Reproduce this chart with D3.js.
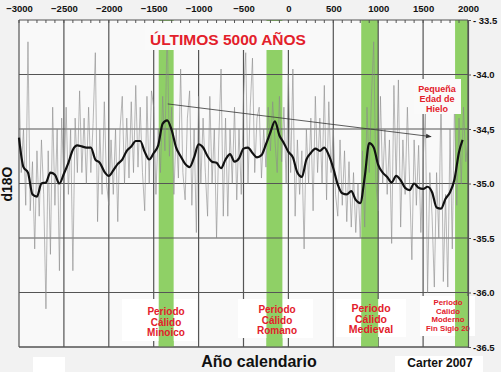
<!DOCTYPE html>
<html>
<head>
<meta charset="utf-8">
<script src="https://cdn.jsdelivr.net/npm/d3@7"></script>
<style>
  body { margin: 0; background: #f2f2f2; }
  svg { display: block; font-family: "Liberation Sans", Arial, sans-serif; }
</style>
</head>
<body>
<div id="plot"></div>
<script>
// tick labels
const xTicks = [-3000, -2500, -2000, -1500, -1000, -500, 0, 500, 1000, 1500, 2000];
const yTicks = [-33.5, -34.0, -34.5, -35.0, -35.5, -36.0, -36.5];
const yTickLabels = ["- 33.5", "-34.0", "-34,5", "-35.0", "-35.5", "-36.0", "-36.5"];

// raw d18O record, one value every 25 years from -3000 to 2000
const rawYears = d3.range(-3000, 2001, 25);
const rawValues = [
  -34.05, -34.9, -34.5, -35.2, -33.7, -35.25, -34.8, -35.6, -34.7, -35.3,
  -34.6, -35.1, -36.15, -34.7, -35.65, -34.3, -35.2, -34.5, -35.8, -34.4,
  -35.0, -34.3, -35.1, -34.5, -35.8, -34.4, -34.9, -34.15, -34.9, -34.4,
  -35.0, -34.3, -34.9, -34.45, -33.8, -35.35, -34.5, -35.1, -34.25, -35.0,
  -35.2, -34.6, -35.1, -34.5, -35.35, -34.5, -34.2, -35.0, -34.4, -34.95,
  -34.25, -34.9, -34.1, -34.85, -34.3, -34.9, -35.25, -34.2, -35.0, -34.15,
  -34.3, -35.1, -34.5, -34.9, -34.2, -34.7, -33.55, -34.75, -34.3, -35.1,
  -34.5, -34.95, -33.95, -34.9, -35.15, -34.4, -34.15, -35.2, -34.5, -35.45,
  -34.2, -35.0, -34.4, -34.9, -35.3, -34.2, -35.0, -34.5, -35.5, -34.6,
  -33.95, -35.3, -34.4, -35.3, -34.5, -35.0, -34.3, -35.15, -34.5, -35.1,
  -34.2, -33.8, -35.0, -34.3, -33.85, -34.9, -34.4, -34.3, -34.95, -34.5,
  -34.85, -34.3, -34.7, -34.25, -34.6, -34.9, -34.2, -34.8, -34.3, -35.0,
  -34.0, -34.9, -33.95, -35.3, -34.6, -35.1, -34.7, -35.6, -34.5, -35.0,
  -34.4, -35.25, -34.2, -34.9, -34.4, -35.0, -34.1, -35.15, -34.25, -34.9,
  -34.5, -35.1, -35.3, -34.6, -35.2, -34.7, -35.35, -34.8, -35.4, -34.9,
  -35.45, -35.0, -35.5, -34.7, -35.4, -34.3, -34.9, -34.2, -33.7, -35.0,
  -35.25, -34.2, -35.0, -34.5, -35.1, -34.6, -35.55, -34.1, -35.0, -34.05,
  -35.4, -34.6, -35.1, -34.3, -35.0, -35.7, -34.6, -35.2, -34.65, -35.45,
  -34.8, -34.35, -36.0, -34.9, -35.3, -35.95, -34.9, -35.5, -34.15, -35.9,
  -35.1, -35.95, -34.5, -35.6, -34.25, -35.2, -34.4, -35.0, -34.3, -34.8,
  -34.6
];

// smoothed curve, every 50 years, last point 1940
const smoothYears = d3.range(-3000, 1901, 50).concat([1940]);
const smoothValues = [
  -34.58, -34.85, -34.90, -35.10, -35.12, -35.00, -34.99, -34.90, -34.92, -35.00,
  -34.91, -34.81, -34.69, -34.65, -34.66, -34.67, -34.67, -34.78, -34.81, -34.89,
  -34.93, -34.88, -34.82, -34.78, -34.70, -34.66, -34.61, -34.61, -34.71, -34.78,
  -34.72, -34.65, -34.45, -34.42, -34.51, -34.67, -34.75, -34.82, -34.85, -34.76,
  -34.64, -34.67, -34.75, -34.80, -34.81, -34.86, -34.78, -34.73, -34.80, -34.77,
  -34.68, -34.67, -34.72, -34.76, -34.74, -34.64, -34.53, -34.43, -34.56, -34.63,
  -34.71, -34.76, -34.90, -34.94, -34.78, -34.72, -34.68, -34.70, -34.67, -34.74,
  -34.86, -35.01, -35.09, -35.10, -35.07, -35.15, -35.18, -34.94, -34.63, -34.67,
  -34.83, -34.90, -34.94, -34.99, -34.93, -34.97, -35.04, -35.06, -35.00, -35.04,
  -35.05, -35.03, -35.08, -35.22, -35.23, -35.14, -35.08, -34.96, -34.71, -34.60
];

// warm periods (green bands)
const periodNames = [["Periodo", "Cálido", "Minoico"], ["Periodo", "Cálido", "Romano"],
                     ["Periodo", "Cálido", "Medieval"], ["Periodo", "Cálido", "Moderno", "Fin Siglo 20"]];
const periodStart = [-1444, -244, 811, 1856];
const periodEnd = [-1278, -67, 1000, 2000];

// trend arrow
const trendYears = [-1344, 1589];
const trendValues = [-34.27, -34.57];

var w = 501, h = 372;
var svg = d3.select("#plot").append("svg").attr("width", w).attr("height", h);

var x = d3.scaleLinear().domain([-3000, 2000]).range([19, 468]);
var y = d3.scaleLinear().domain([-33.5, -36.5]).range([20, 347]);

var red = "#e3202b", green = "#8fd066", gridc = "#555";

// plot background
svg.append("rect").attr("x", x(-3000)).attr("y", y(-33.5))
  .attr("width", x(2000) - x(-3000)).attr("height", y(-36.5) - y(-33.5))
  .attr("fill", "#f9f9f9");

// green bands
svg.selectAll(".band").data(periodStart).enter().append("rect")
  .attr("x", (d, i) => x(d)).attr("y", y(-33.5))
  .attr("width", (d, i) => x(periodEnd[i]) - x(d))
  .attr("height", y(-36.5) - y(-33.5))
  .attr("fill", green);

// grid
svg.selectAll(".vg").data(xTicks).enter().append("line")
  .attr("x1", d => x(d)).attr("x2", d => x(d))
  .attr("y1", y(-33.5)).attr("y2", y(-36.5))
  .attr("stroke", gridc).attr("stroke-width", 1.2);
svg.selectAll(".hg").data(yTicks).enter().append("line")
  .attr("x1", x(-3000)).attr("x2", x(2000))
  .attr("y1", d => y(d)).attr("y2", d => y(d))
  .attr("stroke", gridc).attr("stroke-width", 1.2);

// raw series
var raw = rawYears.map((d, i) => [d, rawValues[i]]);
svg.append("path").datum(raw)
  .attr("d", d3.line().x(d => x(d[0])).y(d => y(d[1])))
  .attr("fill", "none").attr("stroke", "#8a8a8a").attr("stroke-width", 0.75)
  .attr("opacity", 0.8);

// smoothed series
var smooth = smoothYears.map((d, i) => [d, smoothValues[i]]);
svg.append("path").datum(smooth)
  .attr("d", d3.line().curve(d3.curveMonotoneX).x(d => x(d[0])).y(d => y(d[1])))
  .attr("fill", "none").attr("stroke", "#111").attr("stroke-width", 2.2);

// trend arrow
svg.append("defs").append("marker").attr("id", "arr")
  .attr("viewBox", "0 0 10 10").attr("refX", 9).attr("refY", 5)
  .attr("markerWidth", 7).attr("markerHeight", 7).attr("orient", "auto")
  .append("path").attr("d", "M0,1L10,5L0,9z").attr("fill", "#333");
svg.append("line")
  .attr("x1", x(trendYears[0])).attr("y1", y(trendValues[0]))
  .attr("x2", x(trendYears[1])).attr("y2", y(trendValues[1]))
  .attr("stroke", "#333").attr("stroke-width", 0.8).attr("marker-end", "url(#arr)");

// title
svg.append("rect").attr("x", 145).attr("y", 21).attr("width", 165).attr("height", 29).attr("fill", "#fafafa");
svg.append("text").attr("x", 228).attr("y", 45).attr("text-anchor", "middle")
  .attr("font-size", 15.5).attr("font-weight", "bold").attr("fill", red)
  .text("ÚLTIMOS 5000 AÑOS");

// little ice age note
svg.append("rect").attr("x", 414).attr("y", 79).attr("width", 47).attr("height", 35).attr("fill", "#fafafa");
svg.selectAll(".lia").data(["Pequeña", "Edad de", "Hielo"]).enter().append("text")
  .attr("x", 437).attr("y", (d, i) => 92 + i * 10).attr("text-anchor", "middle")
  .attr("font-size", 9).attr("font-weight", "bold").attr("fill", red).text(d => d);

// period label boxes
var boxX = [122, 238, 336, 420], boxW = [75, 75, 70, 55], boxY = [299, 299, 299, 296], boxH = [42, 39, 38, 40];
svg.selectAll(".pbox").data(boxX).enter().append("rect")
  .attr("x", d => d).attr("y", (d, i) => boxY[i])
  .attr("width", (d, i) => boxW[i]).attr("height", (d, i) => boxH[i])
  .attr("fill", "#fff");
svg.selectAll(".band2").data(periodStart).enter().append("rect")
  .attr("x", d => x(d)).attr("y", (d, i) => boxY[i])
  .attr("width", (d, i) => x(periodEnd[i]) - x(d))
  .attr("height", (d, i) => y(-36.5) - boxY[i])
  .attr("fill", green);
svg.append("line").attr("x1", x(-3000)).attr("x2", x(2000))
  .attr("y1", y(-36.5)).attr("y2", y(-36.5)).attr("stroke", gridc).attr("stroke-width", 1.2);

var labCx = [166, 277, 371, 448], labY0 = [315, 313, 312, 305], labStep = [10.5, 10.5, 10.5, 8.6], labFs = [10, 10, 10.5, 7.8];
periodNames.forEach(function (lines, i) {
  svg.selectAll(".pl" + i).data(lines).enter().append("text")
    .attr("x", labCx[i]).attr("y", (d, j) => labY0[i] + j * labStep[i])
    .attr("text-anchor", "middle").attr("font-size", labFs[i]).attr("font-weight", "bold")
    .attr("fill", red).text(d => d);
});

// axes
var xAxis = d3.axisTop(x).tickValues(xTicks).tickSize(0).tickPadding(8).tickFormat(d3.format("d"));
svg.append("g").attr("transform", "translate(0," + y(-33.5) + ")").call(xAxis)
  .call(g => g.select(".domain").remove())
  .selectAll("text").attr("font-size", 9.5).attr("font-weight", "bold").attr("fill", "#111")
  .attr("font-family", "Liberation Sans, Arial, sans-serif");

// minor ticks on top
svg.selectAll(".mt").data(d3.range(-3000, 2001, 100)).enter().append("line")
  .attr("x1", d => x(d)).attr("x2", d => x(d)).attr("y1", y(-33.5)).attr("y2", y(-33.5) + 3)
  .attr("stroke", gridc).attr("stroke-width", 1);

var yAxis = d3.axisRight(y).tickValues(yTicks).tickSize(3).tickPadding(2)
  .tickFormat((d, i) => yTickLabels[i]);
svg.append("g").attr("transform", "translate(" + x(2000) + ",0)").call(yAxis)
  .call(g => g.select(".domain").attr("stroke", gridc).attr("stroke-width", 1.2))
  .call(g => g.selectAll("line").attr("stroke", gridc))
  .selectAll("text").attr("font-size", 9.5).attr("font-weight", "bold").attr("fill", "#111")
  .attr("font-family", "Liberation Sans, Arial, sans-serif");

// axis titles
svg.append("text").attr("transform", "translate(12,184) rotate(-90)").attr("text-anchor", "middle")
  .attr("font-size", 14).attr("font-weight", "bold").attr("fill", "#111").text("d18O");
svg.append("text").attr("x", 259).attr("y", 367).attr("text-anchor", "middle")
  .attr("font-size", 16).attr("font-weight", "bold").attr("fill", "#111").text("Año calendario");
svg.append("rect").attr("x", 33).attr("y", 357).attr("width", 32).attr("height", 15).attr("fill", "#fff");
svg.append("rect").attr("x", 395).attr("y", 356).attr("width", 88).attr("height", 16).attr("fill", "#fff");
svg.append("text").attr("x", 440).attr("y", 367).attr("text-anchor", "middle")
  .attr("font-size", 12).attr("font-weight", "bold").attr("fill", "#111").text("Carter 2007");
</script>
</body>
</html>
